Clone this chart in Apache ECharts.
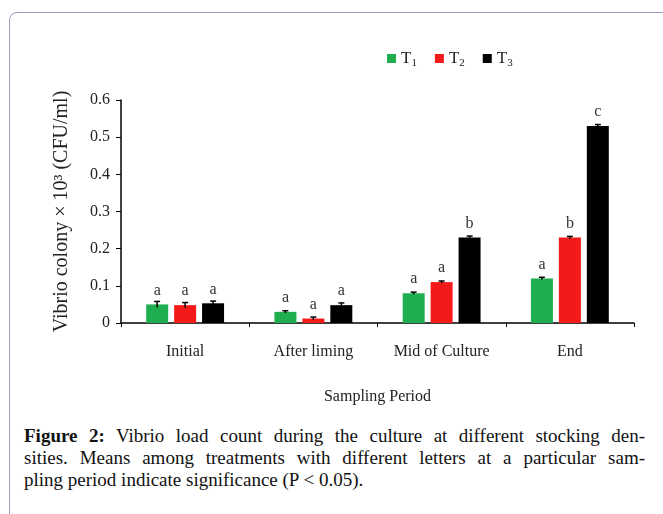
<!DOCTYPE html>
<html>
<head>
<meta charset="utf-8">
<script src="https://cdn.jsdelivr.net/npm/echarts@6/dist/echarts.min.js"></script>
<style>
  html, body { margin: 0; padding: 0; background: #fff; }
  #wrap { position: relative; width: 663px; height: 514px; overflow: hidden; }
  #frame {
    position: absolute; left: 9px; top: 12px; width: 700px; height: 560px;
    border: 1px solid #9b9bc0; border-radius: 8px; box-sizing: border-box;
  }
  #chart { position: absolute; left: 0; top: 0; width: 663px; height: 410px; }
  #caption {
    position: absolute; left: 24px; top: 425px; width: 621px;
    font-family: "Liberation Serif", "Times New Roman", serif;
    font-size: 19px; line-height: 22px; color: #111;
  }
  #caption span { display: block; text-align: justify; text-align-last: justify; white-space: nowrap; }
  #caption span.last { text-align-last: left; }
</style>
</head>
<body>
<div id="wrap">
  <div id="frame"></div>
  <div id="chart"></div>
  <div id="caption">
    <span><b>Figure 2:</b> Vibrio load count during the culture at different stocking den-</span>
    <span>sities. Means among treatments with different letters at a particular sam-</span>
    <span class="last">pling period indicate significance (P &lt; 0.05).</span>
  </div>
</div>
<script>
const categories = ['Initial', 'After liming', 'Mid of Culture', 'End']
const seriesNames = ['T1', 'T2', 'T3']
const t1 = [0.05, 0.03, 0.08, 0.12]
const t2 = [0.048, 0.012, 0.11, 0.23]
const t3 = [0.053, 0.048, 0.23, 0.53]
const t1Err = [0.008, 0.003, 0.003, 0.003]
const t2Err = [0.007, 0.004, 0.003, 0.003]
const t3Err = [0.006, 0.006, 0.004, 0.004]
const t1Letters = ['a', 'a', 'a', 'a']
const t2Letters = ['a', 'a', 'a', 'b']
const t3Letters = ['a', 'a', 'b', 'c']
const colors = ['#1fae4f', '#f51a1a', '#000000']

const serif = '"Liberation Serif", "Times New Roman", serif'
const values = [t1, t2, t3]
const errors = [t1Err, t2Err, t3Err]
const letters = [t1Letters, t2Letters, t3Letters]

const barWidth = 22
const barStep = 28

const chart = echarts.init(document.getElementById('chart'))

const barSeries = seriesNames.map((name, i) => ({
  name,
  type: 'bar',
  barWidth,
  barGap: '27%',
  itemStyle: { color: colors[i] },
  data: values[i].map((v, j) => ({ value: v, letter: letters[i][j] })),
  label: {
    show: true,
    position: 'top',
    distance: 6,
    fontFamily: serif,
    fontSize: 16,
    color: '#333',
    formatter: p => p.data.letter
  }
}))

// error bars drawn on top of the grouped bars
const errSeries = seriesNames.map((name, i) => ({
  name: name + '-err',
  type: 'custom',
  z: 5,
  data: values[i].map((v, j) => [j, v, errors[i][j]]),
  renderItem (params, api) {
    const c = api.value(0)
    const v = api.value(1)
    const e = api.value(2)
    const off = (i - 1) * barStep
    const hi = api.coord([c, v + e])
    const lo = api.coord([c, v - e])
    const x = hi[0] + off
    const style = { stroke: '#000', lineWidth: 1.5 }
    return {
      type: 'group',
      children: [
        { type: 'line', shape: { x1: x, y1: hi[1], x2: x, y2: lo[1] }, style },
        { type: 'line', shape: { x1: x - 3, y1: hi[1], x2: x + 3, y2: hi[1] }, style }
      ]
    }
  }
}))

const option = {
  animation: false,
  textStyle: { fontFamily: serif },
  legend: {
    data: seriesNames,
    top: 45,
    left: 382,
    itemWidth: 9,
    itemHeight: 9,
    itemGap: 18,
    icon: 'rect',
    formatter: name => 'T{s|' + name.slice(1) + '}',
    textStyle: {
      fontFamily: serif,
      fontSize: 17,
      color: '#222',
      rich: {
        s: { fontFamily: serif, fontSize: 11, color: '#222', padding: [10, 0, 0, 0] }
      }
    }
  },
  grid: {
    top: 100,
    left: 121,
    right: 29,
    bottom: 86
  },
  xAxis: {
    type: 'category',
    data: categories,
    name: 'Sampling Period',
    nameLocation: 'middle',
    nameGap: 66,
    nameTextStyle: { fontFamily: serif, fontSize: 16, color: '#222' },
    axisLine: { lineStyle: { color: '#000', width: 1.5 } },
    axisTick: { show: true, length: 4, lineStyle: { color: '#000' } },
    axisLabel: { fontFamily: serif, fontSize: 16, color: '#222', margin: 21 }
  },
  yAxis: {
    type: 'value',
    min: 0,
    max: 0.6,
    interval: 0.1,
    name: 'Vibrio colony × 10³ (CFU/ml)',
    nameLocation: 'middle',
    nameGap: 49,
    nameTextStyle: { fontFamily: serif, fontSize: 20, color: '#222' },
    splitLine: { show: false },
    axisLine: { show: true, lineStyle: { color: '#000', width: 1.5 } },
    axisTick: { show: true, length: 5, lineStyle: { color: '#000' } },
    axisLabel: {
      fontFamily: serif,
      fontSize: 16,
      color: '#222',
      margin: 11,
      formatter: v => v === 0 ? '0' : v.toFixed(1)
    }
  },
  series: barSeries.concat(errSeries)
}

chart.setOption(option)
</script>
</body>
</html>
